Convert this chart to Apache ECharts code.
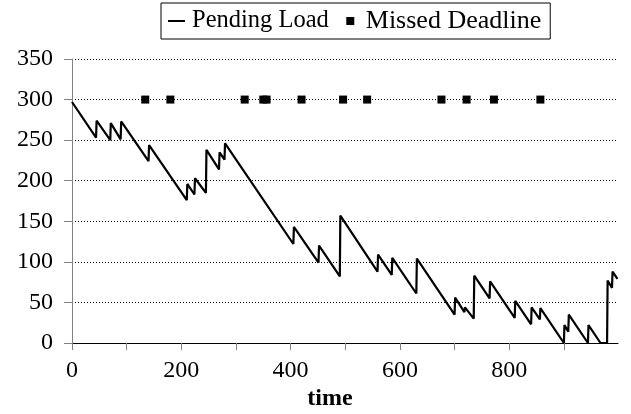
<!DOCTYPE html>
<html>
<head>
<meta charset="utf-8">
<script src="https://cdn.jsdelivr.net/npm/echarts@6/dist/echarts.min.js"></script>
<style>html,body{margin:0;padding:0;background:#fff}#c{width:631px;height:414px}</style>
</head>
<body>
<div id="c"></div>
<script>
// Pending Load: [time, load]
const pendingLoad = [
  [0,297],[44,253],[45,274],[70,250],[71,271],[89,251],[90,273],[140,224],[141,244],
  [210,176],[211,196],[224,183],[225,203],[245,185],[246,238],[269,214],[270,235],
  [279,226],[280,246],[405,122],[406,143],[451,99],[452,120],[490,82],[491,157],
  [559,88],[560,109],[585,84],[586,105],[630,61],[631,104],[700,35],[701,56],
  [718,38],[719,44],[735,30],[736,83],[764,55],[765,76],[810,31],[811,52],
  [840,23],[841,44],[856,29],[857,43],[900,0],[901,22],[908,14],[909,35],
  [944,0],[945,22],[967,0],[979,0],[980,77],[988,68],[989,88],[998,79]
];
// Missed Deadline times (plotted at 300)
const missedTimes = [134,180,316,350,356,420,496,540,676,722,772,857];
const missedLevel = 300;
const xTickValues = [0,100,200,300,400,500,600,700,800,900];
const xLabelValues = [0,200,400,600,800];

const FONT = '"Liberation Serif","Times New Roman",serif';
const chart = echarts.init(document.getElementById('c'), null, {renderer:'canvas'});
chart.setOption({
  animation: false,
  textStyle: {fontFamily: FONT, color: '#000'},
  grid: {left: 72, right: 13, top: 59, bottom: 71},
  legend: {
    left: 161, top: 3,
    padding: [5, 9, 5, 7],
    borderColor: '#000', borderWidth: 1,
    itemWidth: 17, itemHeight: 17, itemGap: 13,
    textStyle: {fontFamily: FONT, fontSize: 24.5, color: '#000', padding: [0,0,0,2]},
    data: [
      {name: 'Pending Load', icon: 'path://M0,0 M0,7.5 h17 v2 h-17 z M17,17'},
      {name: 'Missed Deadline', icon: 'path://M0,0 M4.5,4.5 h8 v8 h-8 z M17,17',
       textStyle: {fontSize: 26}}
    ]
  },
  xAxis: {
    type: 'value', min: 0, max: 999, interval: 100,
    axisLine: {show: true, onZero: false, lineStyle: {color: '#000', width: 1}},
    axisTick: {show: true, length: 7, customValues: xTickValues, lineStyle: {color: '#808080'}},
    axisLabel: {customValues: xLabelValues, fontSize: 24, color: '#000', fontFamily: FONT, margin: 16},
    splitLine: {show: false}
  },
  yAxis: {
    type: 'value', min: 0, max: 350, interval: 50,
    axisLine: {show: true, lineStyle: {color: '#808080', width: 1}},
    axisTick: {show: true, length: 8, lineStyle: {color: '#808080'}},
    axisLabel: {fontSize: 24, color: '#000', fontFamily: FONT, margin: 19},
    splitLine: {show: true, lineStyle: {color: '#000', type: [1,2], width: 1}}
  },
  graphic: [{
    type: 'text', x: 330, y: 399,
    style: {text: 'time', font: 'bold 24px ' + FONT, fill: '#000', textAlign: 'center', textVerticalAlign: 'middle'}
  }],
  series: [
    {
      name: 'Pending Load', type: 'line', data: pendingLoad,
      showSymbol: false, color: '#000',
      lineStyle: {color: '#000', width: 2.2}
    },
    {
      name: 'Missed Deadline', type: 'scatter',
      data: missedTimes.map(t => [t, missedLevel]),
      symbol: 'rect', symbolSize: 8, color: '#000',
      itemStyle: {color: '#000', opacity: 1}
    }
  ]
});
</script>
</body>
</html>
